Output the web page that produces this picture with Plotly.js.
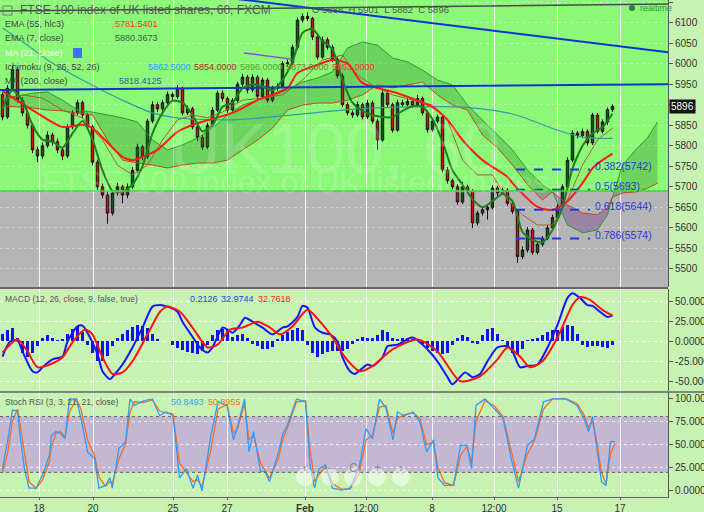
<!DOCTYPE html>
<html>
<head>
<meta charset="utf-8">
<script src="https://cdn.plot.ly/plotly-3.0.1.min.js"></script>
<style>
html,body{margin:0;padding:0;background:#c8f2b2;overflow:hidden;}
#chart{width:704px;height:512px;}
</style>
</head>
<body>
<div id="chart"></div>
<script>
// ================= DATA =================
const tickPos  = [7.3, 18.1, 34.1, 44.9, 60.5, 72.7, 85.9, 98.3, 110.9, 123.5];
const tickText = ['18', '20', '25', '27', '<b>Feb</b>', '12:00', '8', '12:00', '15', '17'];
const priceTicks = [5500,5550,5600,5650,5700,5750,5800,5850,5900,5950,6000,6050,6100,6150];
const priceTickText = ['5500','5550','5600','5650','5700','5750','5800','5850','','5950','6000','6050','6100','6150'];

const opens = [5925,5870,5940,5985,5911,5880,5850,5790,5775,5800,
 5826,5810,5790,5775,5846,5880,5905,5875,5846,5760,
 5700,5680,5636,5685,5700,5680,5700,5740,5797,5773,
 5860,5900,5890,5905,5925,5920,5940,5880,5890,5846,
 5820,5797,5850,5887,5928,5915,5887,5910,5950,5967,
 5936,5967,5920,5960,5911,5940,5945,6000,6002,6040,
 6106,6115,6110,6065,6016,6058,6040,6010,5970,5900,
 5880,5875,5900,5870,5904,5860,5814,5928,5900,5838,
 5905,5900,5908,5898,5915,5880,5839,5860,5870,5741,
 5715,5700,5663,5700,5690,5612,5636,5644,5650,5697,
 5685,5692,5660,5640,5530,5546,5595,5540,5560,5575,
 5600,5625,5651,5700,5765,5831,5825,5835,5807,5875,
 5835,5858,5888];
const highs = [5930,5948,5995,5990,5918,5888,5856,5798,5808,5835,
 5832,5818,5795,5852,5886,5912,5910,5880,5850,5766,
 5708,5688,5692,5710,5705,5708,5748,5805,5802,5866,
 5908,5906,5912,5932,5930,5948,5944,5898,5895,5852,
 5826,5856,5894,5934,5935,5920,5916,5956,5975,5972,
 5974,5972,5966,5965,5946,5952,6006,6010,6046,6112,
 6122,6125,6114,6070,6066,6064,6046,6015,5976,5906,
 5886,5908,5905,5912,5910,5866,5935,5934,5905,5912,
 5912,5916,5914,5924,5920,5886,5866,5876,5874,5748,
 5720,5706,5712,5705,5695,5642,5652,5656,5704,5702,
 5698,5697,5666,5645,5555,5602,5600,5566,5580,5606,
 5632,5658,5706,5772,5838,5836,5842,5840,5880,5880,
 5864,5893,5901];
const lows = [5862,5865,5935,5905,5872,5842,5782,5760,5768,5795,
 5800,5782,5765,5770,5840,5874,5868,5840,5752,5692,
 5672,5610,5630,5678,5660,5672,5695,5735,5765,5768,
 5855,5882,5884,5900,5912,5914,5874,5875,5840,5812,
 5790,5792,5845,5882,5908,5880,5882,5905,5944,5928,
 5930,5912,5914,5905,5906,5934,5940,5992,5996,6034,
 6100,6104,6058,6010,6012,6034,6004,5964,5894,5874,
 5868,5870,5864,5865,5854,5790,5810,5894,5832,5834,
 5894,5896,5892,5894,5874,5832,5834,5855,5735,5708,
 5694,5656,5658,5684,5600,5606,5630,5620,5645,5678,
 5680,5654,5634,5515,5524,5540,5534,5535,5554,5570,
 5594,5620,5646,5694,5760,5818,5820,5800,5802,5830,
 5830,5850,5882];
const closes = [5870,5940,5985,5911,5880,5850,5790,5775,5800,5826,
 5810,5790,5775,5846,5880,5905,5875,5846,5760,5700,
 5680,5636,5685,5700,5680,5700,5740,5797,5773,5860,
 5900,5890,5905,5925,5920,5940,5880,5890,5846,5820,
 5797,5850,5887,5928,5915,5887,5910,5950,5967,5936,
 5967,5920,5960,5911,5940,5945,6000,6002,6040,6106,
 6115,6110,6065,6016,6058,6040,6010,5970,5900,5880,
 5875,5900,5870,5904,5860,5814,5928,5900,5838,5905,
 5900,5908,5898,5915,5880,5839,5860,5870,5741,5715,
 5700,5663,5700,5690,5612,5636,5644,5650,5697,5685,
 5692,5660,5640,5530,5546,5595,5540,5560,5575,5600,
 5625,5651,5700,5765,5831,5825,5835,5807,5875,5835,
 5858,5888,5896];

// EMA (55, hlc3)
const ema55Idx = [0,6,12,16,18,24,26,28,31,35,39,46,51,57,59,63,66,69,72,79,86,89,92,96,101,102,107,110,113,116,118,120,122];
const ema55 = [5933,5887,5846,5851,5843,5773,5765,5773,5790,5834,5855,5880,5911,5941,5977,5997,6009,6000,5953,5928,5894,5863,5814,5765,5724,5709,5651,5644,5665,5709,5745,5765,5781];
// EMA (7, close)
const ema7Idx = [0,2,4,6,8,10,12,14,16,18,20,22,24,26,28,30,32,34,36,38,40,42,44,46,48,50,52,54,56,58,60,62,64,66,68,70,72,74,76,78,80,82,84,86,88,90,92,94,96,98,100,102,104,106,108,110,112,114,116,118,120,122];
const ema7 = [5890,5935,5910,5850,5815,5810,5795,5830,5860,5815,5740,5690,5688,5705,5750,5830,5880,5910,5905,5875,5835,5850,5895,5905,5940,5950,5945,5935,5960,6005,6075,6085,6055,6035,5960,5905,5885,5875,5870,5870,5885,5897,5895,5865,5810,5740,5705,5670,5650,5665,5683,5665,5590,5570,5565,5595,5650,5745,5800,5830,5845,5878];
// MA (200, close)
const ma200Idx = [0,5,9,16,24,30,35,46,58,68,79,92,101,104,111,116,122];
const ma200 = [6087,6045,6009,5960,5911,5880,5868,5863,5875,5887,5894,5894,5880,5870,5838,5821,5818];
// Ichimoku base line
const kijunIdx = [0,4,8,12,16,20,23,26,29,32,35,38,41,44,48,52,56,60,64,68,71,74,78,82,86,89,92,95,98,101,104,107,110,113,116,119,122];
const kijun = [5911,5924,5916,5887,5868,5814,5753,5729,5753,5814,5863,5875,5868,5882,5911,5916,5924,5960,6009,6021,5972,5948,5924,5911,5899,5863,5765,5729,5729,5668,5632,5607,5607,5668,5753,5814,5843];
// Ichimoku cloud (leading spans, displaced forward)
const cloudIdx = [0,3,6,9,12,15,18,21,24,27,30,33,36,39,42,45,48,51,54,57,60,63,66,69,72,75,78,81,84,87,90,93,96,99,102,105,108,110,113,116,119,121,122,124,127,129,131];
const spanA = [5916,5921,5928,5931,5911,5887,5882,5875,5868,5858,
 5814,5790,5802,5819,5843,5875,5899,5911,5921,5936,
 5955,5965,5980,6038,6053,6045,6014,6004,5984,5960,
 5948,5899,5863,5826,5790,5741,5705,5688,5607,5588,
 5595,5632,5675,5753,5795,5819,5858];
const spanB = [5897,5894,5892,5887,5885,5880,5875,5814,5765,5758,
 5753,5746,5753,5758,5758,5765,5790,5814,5843,5887,
 5899,5904,5904,5911,5924,5948,5941,5948,5955,5924,
 5899,5887,5826,5795,5753,5705,5668,5688,5656,5636,
 5632,5649,5675,5685,5688,5697,5709];

// Fibonacci retracement
const fibLevels = [5742, 5693, 5644, 5574];
const fibLabels = ['0.382(5742)', '0.5(5693)', '0.618(5644)', '0.786(5574)'];
const fibFrom = 102.7, fibTo = 117.5;

// Drawn trend lines (bar index, price)
const blueFlatX = [-0.5, 133.1],  blueFlatY = [5936, 5950];
const blueDownX = [46.5, 133.1],  blueDownY = [6158, 6028];
const purpleX   = [48.3, 57.9],   purpleY   = [6026, 6011];
const darkTopX  = [-0.5, 133.1],  darkTopY  = [6128, 6145];

// MACD (12, 26, close, 9)
const macdIdx = [0,1.5,3,4,6,7,8,10,12,13,15,16,17,19,20,21.5,22.5,24,26,28,30,31.5,33,35,36,38,39.5,41,42,44,45,46,47.5,48.5,50,52,54,56,57,59,60,61,62.5,64,65.5,67,68,69.5,70.5,73,74,76,77,79,82,85,87,89,90,92.5,94,95.5,97,99,101,102,103.5,105,107,109,111,113,114,115.5,117,118,119.5,121,122];
const macdLine = [-19,0,1,-12.5,-37.5,-39,-32.5,-22.5,-19,0,19,20,11,-16,-37.5,-47.5,-41,-29,-7.5,17.5,44,46,44,37.5,25,6,-7.5,-14,-7.5,17.5,15,11,21,30,25,17.5,9,17.5,19,31,45,42.5,17.5,11,9,0,-20,-37.5,-41,-29,-31,-20,-6,-4,5,-10,-25,-45,-54,-39,-45,-41,-25,-7.5,-6,-12.5,-32.5,-31,-29,-7.5,21,55,61,55,46,45,37.5,31,33];
const sigIdx = [0,3,5,7,9.5,12,14,16.5,18,20,22,24,26,29,31.5,33,35.5,38,41,43,45.5,48,51,53.5,55.5,58,61,63.5,66,68.5,71.5,74,78,83,87,91.5,95.5,99,101,103.5,105.5,108,111,114,115.5,117.5,120,122];
const sigLine = [-14,2.5,-12.5,-32.5,-29,-20,-1,15,9,-20,-41,-39,-25,9,37.5,44,37.5,17.5,-7.5,-4,15,17.5,25,17.5,9,19,40,25,5,-20,-37.5,-31,-10,2.5,-12.5,-50,-44,-22.5,-7.5,-19,-32.5,-25,5,46,56,52.5,40,33];
const macdHist = [10,15,17,5,-15,-19,-14,-6,4,8,
 4,2,3,10,16,19,12,-5,-15,-24,
 -25,-18,-6,5,10,14,18,21,20,17,
 10,3,0,0,-4,-8,-11,-13,-15,-16,
 -12,-5,8,14,16,14,6,8,9,4,
 -3,-6,-9,-10,-7,3,8,12,15,17,
 14,-5,-15,-19,-16,-13,-12,-12,-12,-10,
 -3,3,6,4,4,8,15,12,5,3,
 4,5,3,2,-3,-8,-12,-15,-16,-14,
 -4,4,8,6,-2,-3,8,16,17,10,
 2,-8,-14,-17,-10,2,3,4,8,12,
 15,15,18,21,20,10,-4,-7,-6,-6,
 -7,-8,-5];

// Stoch RSI (3, 3, 21, 21, close)
const stochIdx = [0,1,2,3,3.5,4.4,5.3,6.7,8.0,9.4,
 9.8,10.7,11.6,12.5,13.4,14.8,15.7,17.0,18.4,19.3,
 20.6,21.5,21.95,23.3,24.6,25.5,26.4,28.2,30.0,31.4,
 32.7,34.1,35.4,36.8,38.1,39.0,39.9,41.7,43.1,44.9,
 46.2,47.1,48.4,49.3,50.2,51.6,52.5,53.4,55.2,56.1,
 57.0,58.8,60.6,61.5,62.4,63.3,64.6,66.0,67.8,69.5,
 71.3,72.7,74.0,75.4,76.7,78.1,79.0,80.3,82.1,83.5,
 84.8,86.2,87.1,88.4,90.2,91.6,92.9,93.8,94.7,96.5,
 98.3,100.1,101.9,103.2,105.0,106.4,108.2,110.0,112.7,114.9,
 116.3,117.2,118.0,118.9,119.8,120.7,121.6,122.5];
const stochK = [24,53,87,86,60,24,3,3,17,39,
 60,64,62,56,99,99,78,42,35,3,
 6,14,3,46,53,99,92,97,99,81,
 85,81,14,24,3,17,0,60,96,92,
 55,71,99,42,64,21,21,10,42,62,
 71,99,96,28,3,24,28,3,1,3,
 24,67,56,99,89,55,85,81,85,74,
 42,55,14,6,6,49,49,24,92,99,
 89,78,31,3,49,56,96,99,99,92,
 78,64,80,42,10,6,53,53];
const stochD = [20,40,75,88,72,40,10,3,12,32,
 48,62,64,58,85,99,88,55,38,15,
 5,10,8,35,50,85,96,95,98,86,
 84,83,30,20,10,12,5,45,88,93,
 62,68,94,55,60,30,22,14,35,56,
 68,96,97,45,10,18,26,8,2,2,
 18,55,60,90,92,62,78,82,84,78,
 50,52,25,9,6,38,48,30,75,97,
 92,80,40,10,40,54,88,99,99,94,
 82,68,75,52,20,8,40,51];

// ================= BUILD =================
const barIdx = closes.map((_, i) => i);
const FONT = 'Liberation Sans, Arial, sans-serif';
const X0 = -0.5, X1 = 133.1;

const traces = [];

// cloud fills, split where span A and span B swap sides
const segs = [];
for (let k = 1; k < cloudIdx.length; k++) {
  const up = (spanA[k-1] + spanA[k]) >= (spanB[k-1] + spanB[k]);
  const last = segs[segs.length - 1];
  if (last && last.up === up) { last.end = k; }
  else { segs.push({start: k-1, end: k, up}); }
}
segs.forEach(s => {
  const xs = cloudIdx.slice(s.start, s.end + 1);
  const a = spanA.slice(s.start, s.end + 1);
  const b = spanB.slice(s.start, s.end + 1);
  traces.push({
    type: 'scatter', mode: 'lines', x: xs.concat(xs.slice().reverse()),
    y: a.concat(b.slice().reverse()), fill: 'toself',
    fillcolor: s.up ? 'rgba(25,120,25,0.28)' : 'rgba(110,45,140,0.36)',
    line: {width: 0}, hoverinfo: 'skip', yaxis: 'y'
  });
});
traces.push({type:'scatter', mode:'lines', x: cloudIdx, y: spanA, line:{color:'#2f9a2f', width:1}, hoverinfo:'skip'});
traces.push({type:'scatter', mode:'lines', x: cloudIdx, y: spanB, line:{color:'#c2452a', width:1}, hoverinfo:'skip'});

// MA200, kijun, EMA55
traces.push({type:'scatter', mode:'lines', x: ma200Idx, y: ma200, line:{color:'#2f9da5', width:1.2, shape:'spline', smoothing:0.8}, hoverinfo:'skip'});
traces.push({type:'scatter', mode:'lines', x: kijunIdx, y: kijun, line:{color:'#a0622c', width:1}, hoverinfo:'skip'});
traces.push({type:'scatter', mode:'lines', x: ema55Idx, y: ema55, line:{color:'#ff1a1a', width:2, shape:'spline', smoothing:0.8}, hoverinfo:'skip'});

// trend lines
traces.push({type:'scatter', mode:'lines', x: blueFlatX, y: blueFlatY, line:{color:'#1034d0', width:2}, hoverinfo:'skip'});
traces.push({type:'scatter', mode:'lines', x: blueDownX, y: blueDownY, line:{color:'#1034d0', width:2}, hoverinfo:'skip'});
traces.push({type:'scatter', mode:'lines', x: purpleX, y: purpleY, line:{color:'#8a4fd6', width:1.5}, hoverinfo:'skip'});
traces.push({type:'scatter', mode:'lines', x: darkTopX, y: darkTopY, line:{color:'#4a4a4a', width:1.5}, hoverinfo:'skip'});

// EMA7
traces.push({type:'scatter', mode:'lines', x: ema7Idx, y: ema7, line:{color:'#1f7f1f', width:2, shape:'spline', smoothing:0.6}, hoverinfo:'skip'});

// candles
traces.push({
  type:'candlestick', x: barIdx, open: opens, high: highs, low: lows, close: closes,
  increasing:{line:{color:'#141414', width:1}, fillcolor:'#16561a'},
  decreasing:{line:{color:'#2a0c0c', width:1}, fillcolor:'#d40f0f'},
  whiskerwidth: 0, hoverinfo:'skip', yaxis:'y'
});

// fib lines
fibLevels.forEach(v => {
  traces.push({type:'scatter', mode:'lines', x:[fibFrom, fibTo], y:[v, v], line:{color:'#1f3be6', width:2, dash:'dash'}, hoverinfo:'skip'});
});

// MACD panel
traces.push({type:'bar', x: barIdx, y: macdHist, yaxis:'y2', marker:{color:'#1212f0', line:{width:0}}, width:0.7, hoverinfo:'skip'});
traces.push({type:'scatter', mode:'lines', x: macdIdx, y: macdLine, yaxis:'y2', line:{color:'#1515ff', width:2, shape:'spline', smoothing:0.7}, hoverinfo:'skip'});
traces.push({type:'scatter', mode:'lines', x: sigIdx, y: sigLine, yaxis:'y2', line:{color:'#ff1010', width:2, shape:'spline', smoothing:0.7}, hoverinfo:'skip'});

// Stoch RSI panel
traces.push({type:'scatter', mode:'lines', x: stochIdx, y: stochD, yaxis:'y3', line:{color:'#ff6a1a', width:1.3}, hoverinfo:'skip'});
traces.push({type:'scatter', mode:'lines', x: stochIdx, y: stochK, yaxis:'y3', line:{color:'#2f9bff', width:1.3}, hoverinfo:'skip'});

// ================= LAYOUT =================
const W = 668, H = 497;
const px = x => x / W, py = y => (H - y) / H;
function txt(x, y, text, color, size, extra) {
  return Object.assign({xref:'paper', yref:'paper', x: px(x), y: py(y), text, showarrow:false,
    xanchor:'left', yanchor:'middle', font:{family: FONT, size: size || 9, color: color || '#444'}}, extra || {});
}
const ann = [
  // watermark (drawn first, faint)
  {xref:'paper', yref:'paper', x: px(335), y: py(108), text:'UK100, 60', showarrow:false,
   font:{family: FONT, size: 70, color:'rgba(255,255,255,0.16)'}},
  {xref:'paper', yref:'paper', x: px(40), y: py(182), text:'FTSE 100 index of UK listed shares', showarrow:false, xanchor:'left',
   font:{family: FONT, size: 32, color:'rgba(255,255,255,0.16)'}},
  txt(18, 10, 'FTSE 100 index of UK listed shares, 60, FXCM', '#555', 12),
  txt(310, 9, 'O 5888  H 5901  L 5882  C 5896', '#555', 9.5),
  txt(3, 24, 'EMA (55, hlc3)'), txt(113, 24, '5781.5401', '#ff2a2a'),
  txt(3, 38, 'EMA (7, close)'), txt(113, 38, '5880.3673', '#3d5f3d'),
  txt(3, 53, 'MA (21, close)', '#f2fff0'),
  txt(3, 67, 'Ichimoku (9, 26, 52, 26)'),
  txt(146, 67, '5862.5000', '#2aa2ff'), txt(192, 67, '5854.0000', '#a83222'),
  txt(238, 67, '5896.0000', '#52a532'), txt(284, 67, '5873.0000', '#7f7a2a'),
  txt(330, 67, '5863.0000', '#ff3232'),
  txt(3, 81, 'MA (200, close)'), txt(117, 81, '5818.4125', '#3458b0'),
  txt(638, 8, 'realtime', '#3f8f3f', 9),
  txt(3, 299, 'MACD (12, 26, close, 9, false, true)', '#555', 8.5),
  txt(188, 299, '0.2126', '#2040ff'), txt(219, 299, '32.9744', '#2040ff'), txt(256, 299, '32.7618', '#ff2020'),
  txt(3, 402, 'Stoch RSI (3, 3, 21, 21, close)', '#555', 8.5),
  txt(169, 402, '50.8493', '#30a2ff'), txt(206, 402, '50.8955', '#ff7020'),
  // last price tag
  {xref:'paper', yref:'y', x: 1, y: closes[closes.length-1], text: String(closes[closes.length-1]), showarrow:false,
   xanchor:'left', xshift: 1, bgcolor:'#111', borderpad: 1, font:{family: FONT, size: 10, color:'#fff'}}
];
fibLevels.forEach((v, k) => {
  ann.push({xref:'x', yref:'y', x: fibTo + 0.6, y: v, text: fibLabels[k], showarrow:false, xanchor:'left', yanchor:'middle',
    yshift: 4, font:{family: FONT, size: 10.5, color:'#2a3ad8'}});
});
// navigation buttons
const navX = [305, 330, 353, 377, 401], navT = ['‹', '−', 'C', '+', '›'];
const shapes = [
  // main panel backgrounds
  {type:'rect', xref:'x', yref:'y', x0: X0, x1: X1, y0: 5456, y1: 6155, fillcolor:'#b5b5b5', line:{width:0}, layer:'below'},
  {type:'rect', xref:'x', yref:'y', x0: X0, x1: X1, y0: 5690, y1: 6155, fillcolor:'#8cf878', line:{width:0}, layer:'below'},
  {type:'line', xref:'x', yref:'y', x0: X0, x1: X1, y0: 5690, y1: 5690, line:{color:'#2ee02e', width:1.5}},
  // stoch band
  {type:'rect', xref:'x', yref:'y3', x0: X0, x1: X1, y0: 20, y1: 80, fillcolor:'#c3b8d4', line:{width:0}, layer:'below'},
  {type:'line', xref:'x', yref:'y3', x0: X0, x1: X1, y0: 20, y1: 20, line:{color:'#666', width:1, dash:'dot'}},
  {type:'line', xref:'x', yref:'y3', x0: X0, x1: X1, y0: 80, y1: 80, line:{color:'#666', width:1, dash:'dot'}},
  // panel separators
  {type:'line', xref:'paper', yref:'paper', x0: 0, x1: 1, y0: py(288), y1: py(288), line:{color:'#7d567d', width:2}},
  {type:'line', xref:'paper', yref:'paper', x0: 0, x1: 1.06, y0: py(392), y1: py(392), line:{color:'#666', width:1.5}},
  // title icon + MA eye + realtime dot
  {type:'rect', xref:'paper', yref:'paper', x0: px(3), x1: px(12), y0: py(15), y1: py(6), line:{color:'#777', width:1}},
  {type:'rect', xref:'paper', yref:'paper', x0: px(73), x1: px(82), y0: py(58), y1: py(48), fillcolor:'#3d72f0', line:{width:0}},
  {type:'circle', xref:'paper', yref:'paper', x0: px(629), x1: px(635), y0: py(11), y1: py(5), fillcolor:'#2f7f3f', line:{width:0}}
];
navX.forEach((cx, k) => {
  shapes.push({type:'circle', xref:'paper', yref:'paper', x0: px(cx-9), x1: px(cx+9), y0: py(486), y1: py(468),
    fillcolor:'rgba(255,255,255,0.5)', line:{width:0}});
  ann.push({xref:'paper', yref:'paper', x: px(cx), y: py(477), text: navT[k], showarrow:false,
    font:{family: FONT, size: 12, color:'#8c8c8c'}});
});

const yBase = {side:'right', anchor:'x', ticks:'outside', ticklen:4, tickcolor:'#555',
  tickfont:{family: FONT, size:10, color:'#333'}, showline:true, linecolor:'#555', linewidth:1,
  zeroline:false, showgrid:true, griddash:'dot', fixedrange:true};

const layout = {
  width: 704, height: 512,
  margin: {l:0, r:36, t:0, b:15},
  paper_bgcolor:'#c8f2b2', plot_bgcolor:'#c8f2b2',
  showlegend:false, bargap:0,
  xaxis: {range:[X0, X1], anchor:'y3', tickvals: tickPos, ticktext: tickText,
    ticks:'outside', ticklen:2, tickcolor:'#666', showline:true, linecolor:'#666',
    tickfont:{family: FONT, size:10, color:'#333'}, showgrid:true, gridcolor:'rgba(255,255,255,0.85)', gridwidth:1,
    zeroline:false, rangeslider:{visible:false}, fixedrange:true},
  yaxis: Object.assign({}, yBase, {domain:[py(287), 1], range:[5456, 6155],
    tickvals: priceTicks, ticktext: priceTickText, gridcolor:'rgba(255,255,255,0.35)'}),
  yaxis2: Object.assign({}, yBase, {domain:[py(391), py(289)], range:[-62.5, 66.25],
    tickvals:[-50,-25,0,25,50], ticktext:['-50.0000','-25.0000','0.0000','25.0000','50.0000'],
    gridcolor:'rgba(255,255,255,0.9)'}),
  yaxis3: Object.assign({}, yBase, {domain:[0, py(392)], range:[-6.5, 106.5],
    tickvals:[0,25,50,75,100], ticktext:['0.0000','25.0000','50.0000','75.0000','100.0000'],
    gridcolor:'rgba(255,255,255,0.7)'}),
  shapes: shapes,
  annotations: ann
};

Plotly.newPlot('chart', traces, layout, {displayModeBar:false, staticPlot:true});
</script>
</body>
</html>
